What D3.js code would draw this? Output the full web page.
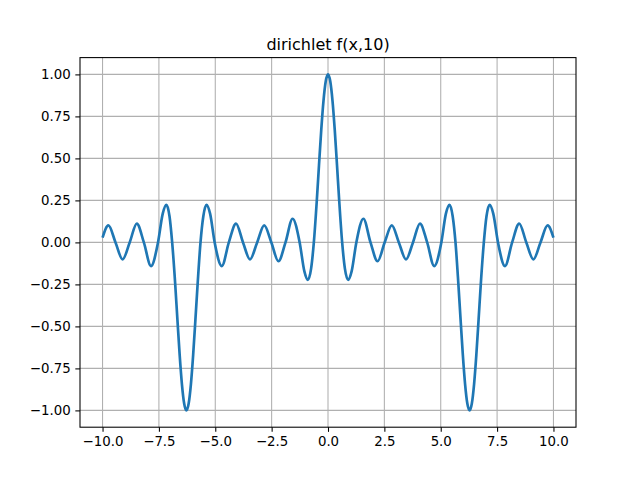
<!DOCTYPE html>
<html><head><meta charset="utf-8">
<script src="https://cdn.jsdelivr.net/npm/d3@7"></script>
<style>body{margin:0;background:#fff}svg{display:block}</style>
</head><body>
<svg id="c" width="640" height="480"></svg>
<script>
const title = "dirichlet f(x,10)";
const xValues = [-10,-9.74,-9.425,-9.11,-8.796,-8.48,-8.168,-7.85,-7.54,-7.33,-7.17,-7.03,-6.912,-6.78,-6.68,-6.58,-6.48,-6.38,-6.283,-6.18,-6.08,-5.98,-5.88,-5.78,-5.655,-5.53,-5.39,-5.23,-5.027,-4.71,-4.398,-4.08,-3.77,-3.46,-3.142,-2.83,-2.513,-2.2,-1.885,-1.57,-1.257,-1.05,-0.89,-0.75,-0.628,-0.5,-0.4,-0.3,-0.2,-0.1,
0,0.1,0.2,0.3,0.4,0.5,0.628,0.75,0.89,1.05,1.257,1.57,1.885,2.2,2.513,2.83,3.142,3.46,3.77,4.08,4.398,4.71,5.027,5.23,5.39,5.53,5.655,5.78,5.88,5.98,6.08,6.18,6.283,6.38,6.48,6.58,6.68,6.78,6.912,7.03,7.17,7.33,7.54,7.85,8.168,8.48,8.796,9.11,9.425,9.74,10];
const yValues = [0.028,0.101,0,-0.101,0,0.112,0,-0.141,0,0.171,0.223,0.156,0,-0.242,-0.458,-0.668,-0.843,-0.959,-1.0,-0.959,-0.843,-0.668,-0.458,-0.242,0,0.156,0.223,0.171,0,-0.141,0,0.112,0,-0.101,0,0.101,0,-0.112,0,0.141,0,-0.171,-0.223,-0.156,0,0.242,0.458,0.668,0.843,0.959,
1.0,0.959,0.843,0.668,0.458,0.242,0,-0.156,-0.223,-0.171,0,0.141,0,-0.112,0,0.101,0,-0.101,0,0.112,0,-0.141,0,0.171,0.223,0.156,0,-0.242,-0.458,-0.668,-0.843,-0.959,-1.0,-0.959,-0.843,-0.668,-0.458,-0.242,0,0.156,0.223,0.171,0,-0.141,0,0.112,0,-0.101,0,0.101,0.028];
const xTicks = [-10,-7.5,-5,-2.5,0,2.5,5,7.5,10];
const yTicks = [-1,-0.75,-0.5,-0.25,0,0.25,0.5,0.75,1];

const svg = d3.select("#c");
const L = 80, R = 576, T = 57.6, B = 427.2;
const x = d3.scaleLinear().domain([-11, 11]).range([L, R]);
const y = d3.scaleLinear().domain([-1.1, 1.1]).range([B, T]);
const font = "DejaVu Sans, sans-serif";
const fmt = (d, p) => d3.format("." + p + "f")(d).replace("-", "\u2212");

// grid
svg.append("g").selectAll("line").data(xTicks).join("line")
  .attr("x1", d => x(d)).attr("x2", d => x(d)).attr("y1", T).attr("y2", B)
  .attr("stroke", "#b0b0b0").attr("stroke-width", 1.07);
svg.append("g").selectAll("line").data(yTicks).join("line")
  .attr("y1", d => y(d)).attr("y2", d => y(d)).attr("x1", L).attr("x2", R)
  .attr("stroke", "#b0b0b0").attr("stroke-width", 1.07);

// line
const pts = xValues.map((v, i) => [v, yValues[i]]);
svg.append("path").datum(pts)
  .attr("d", d3.line().x(d => x(d[0])).y(d => y(d[1])).curve(d3.curveMonotoneX))
  .attr("fill", "none").attr("stroke", "#1f77b4").attr("stroke-width", 2.67)
  .attr("stroke-linejoin", "round").attr("stroke-linecap", "butt");

// axes
const xAxis = d3.axisBottom(x).tickValues(xTicks).tickSize(4.67).tickPadding(4.67).tickFormat(d => fmt(d, 1));
const yAxis = d3.axisLeft(y).tickValues(yTicks).tickSize(4.67).tickPadding(4.67).tickFormat(d => fmt(d, 2));
const gx = svg.append("g").attr("transform", `translate(0,${B})`).call(xAxis);
const gy = svg.append("g").attr("transform", `translate(${L},0)`).call(yAxis);
[gx, gy].forEach(g => {
  g.select(".domain").remove();
  g.selectAll("line").attr("stroke", "#000").attr("stroke-width", 1.07);
  g.selectAll("text").attr("font-family", font).attr("font-size", "13.33px").attr("fill", "#000");
});

// spines
svg.append("rect").attr("x", L).attr("y", T).attr("width", R - L).attr("height", B - T)
  .attr("fill", "none").attr("stroke", "#000").attr("stroke-width", 1.07);

// title
svg.append("text").attr("x", (L + R) / 2).attr("y", T - 8)
  .attr("text-anchor", "middle").attr("font-family", font).attr("font-size", "16px")
  .text(title);
</script>
</body></html>
